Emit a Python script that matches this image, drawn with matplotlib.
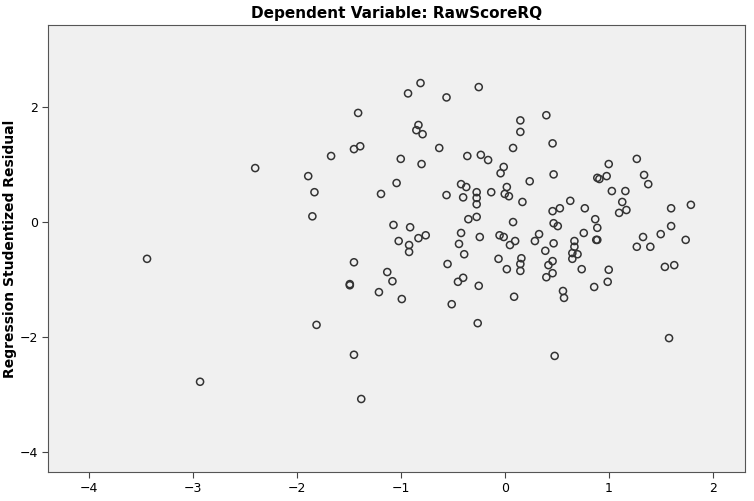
import matplotlib.pyplot as plt

# predicted values (x) vs studentized residuals (y)
pred = [-0.93, -0.81, -1.41, -0.85, -1.39, -1.45, -1.67, -2.40, -1.00, -1.89,
        -1.83, -1.04, -1.19, -1.85, -1.07, -0.91, -1.02, -0.92, -0.92, -3.44,
        -1.45, -1.13, -1.08, -1.49, -1.49, -1.21, -0.99, -1.81, -1.45, -2.93,
        -1.38, -0.56, -0.25, 0.40, 0.15, 0.15, -0.83, -0.79, -0.63, 0.46,
        0.08, -0.80, -0.36, -0.23, -0.16, -0.01, -0.04, 0.24, 0.47, 0.89,
        -0.42, -0.37, -0.56, -0.40, -0.27, -0.27, -0.27, -0.13, 0.02, 0.00,
        0.04, 0.17, 0.63, 0.46, 0.53, 0.77, 0.87, -0.35, -0.27, 0.08,
        0.47, 0.51, -0.76, -0.83, -0.42, -0.24, -0.05, -0.01, 0.33, 0.29,
        0.76, 0.88, -0.44, 0.05, 0.10, 0.47, 0.67, 0.67, -0.39, -0.06,
        0.16, 0.15, 0.15, 0.02, 0.39, 0.46, 0.42, 0.46, 0.40, 0.65,
        0.70, 0.65, 0.74, 0.86, 0.56, 0.57, -0.55, -0.40, -0.45, -0.25,
        -0.51, 0.09, -0.26, 0.48, 1.27, 1.00, 0.98, 0.91, 1.34, 1.38,
        1.03, 1.16, 1.13, 1.10, 1.17, 1.60, 1.79, 0.89, 0.89, 1.33,
        1.50, 1.60, 1.74, 1.27, 1.40, 1.00, 0.99, 1.54, 1.63, 1.58]
resid = [2.24, 2.42, 1.90, 1.60, 1.32, 1.27, 1.15, 0.94, 1.10, 0.80,
         0.52, 0.68, 0.49, 0.10, -0.05, -0.09, -0.33, -0.40, -0.52, -0.64,
         -0.70, -0.87, -1.03, -1.08, -1.10, -1.22, -1.34, -1.79, -2.31, -2.78,
         -3.08, 2.17, 2.35, 1.86, 1.77, 1.57, 1.69, 1.53, 1.29, 1.37,
         1.29, 1.01, 1.15, 1.17, 1.08, 0.96, 0.85, 0.71, 0.83, 0.77,
         0.66, 0.61, 0.47, 0.43, 0.52, 0.42, 0.31, 0.52, 0.61, 0.49,
         0.45, 0.35, 0.37, 0.19, 0.24, 0.24, 0.05, 0.05, 0.09, 0.00,
         -0.02, -0.07, -0.23, -0.28, -0.19, -0.26, -0.23, -0.26, -0.21, -0.33,
         -0.19, -0.31, -0.38, -0.40, -0.33, -0.37, -0.33, -0.43, -0.56, -0.64,
         -0.63, -0.73, -0.85, -0.82, -0.50, -0.68, -0.75, -0.89, -0.96, -0.54,
         -0.56, -0.64, -0.82, -1.13, -1.20, -1.32, -0.73, -0.97, -1.04, -1.11,
         -1.43, -1.30, -1.76, -2.33, 1.10, 1.01, 0.80, 0.75, 0.82, 0.66,
         0.54, 0.54, 0.35, 0.16, 0.21, 0.24, 0.30, -0.10, -0.31, -0.26,
         -0.21, -0.07, -0.31, -0.43, -0.43, -0.83, -1.04, -0.78, -0.75, -2.02]

xticks = [-4, -3, -2, -1, 0, 1, 2]
yticks = [-4, -2, 0, 2]

fig = plt.figure(figsize=(7.54, 5.01), dpi=100)
ax = fig.add_axes([0.064, 0.058, 0.924, 0.892])
ax.set_facecolor("#f0f0f0")

ax.scatter(pred, resid, s=26, facecolors="none", edgecolors="#333333", linewidths=1.1)

ax.set_xlim(-4.39, 2.31)
ax.set_ylim(-4.35, 3.43)
ax.set_xticks(xticks)
ax.set_yticks(yticks)
ax.tick_params(labelsize=9, length=4, color="#444444")
for s in ax.spines.values():
    s.set_color("#555555")

ax.set_title("Dependent Variable: RawScoreRQ", fontsize=11, fontweight="bold", pad=5)
ax.set_ylabel("Regression Studentized Residual", fontsize=10, fontweight="bold", labelpad=2)

plt.savefig("out.png")
